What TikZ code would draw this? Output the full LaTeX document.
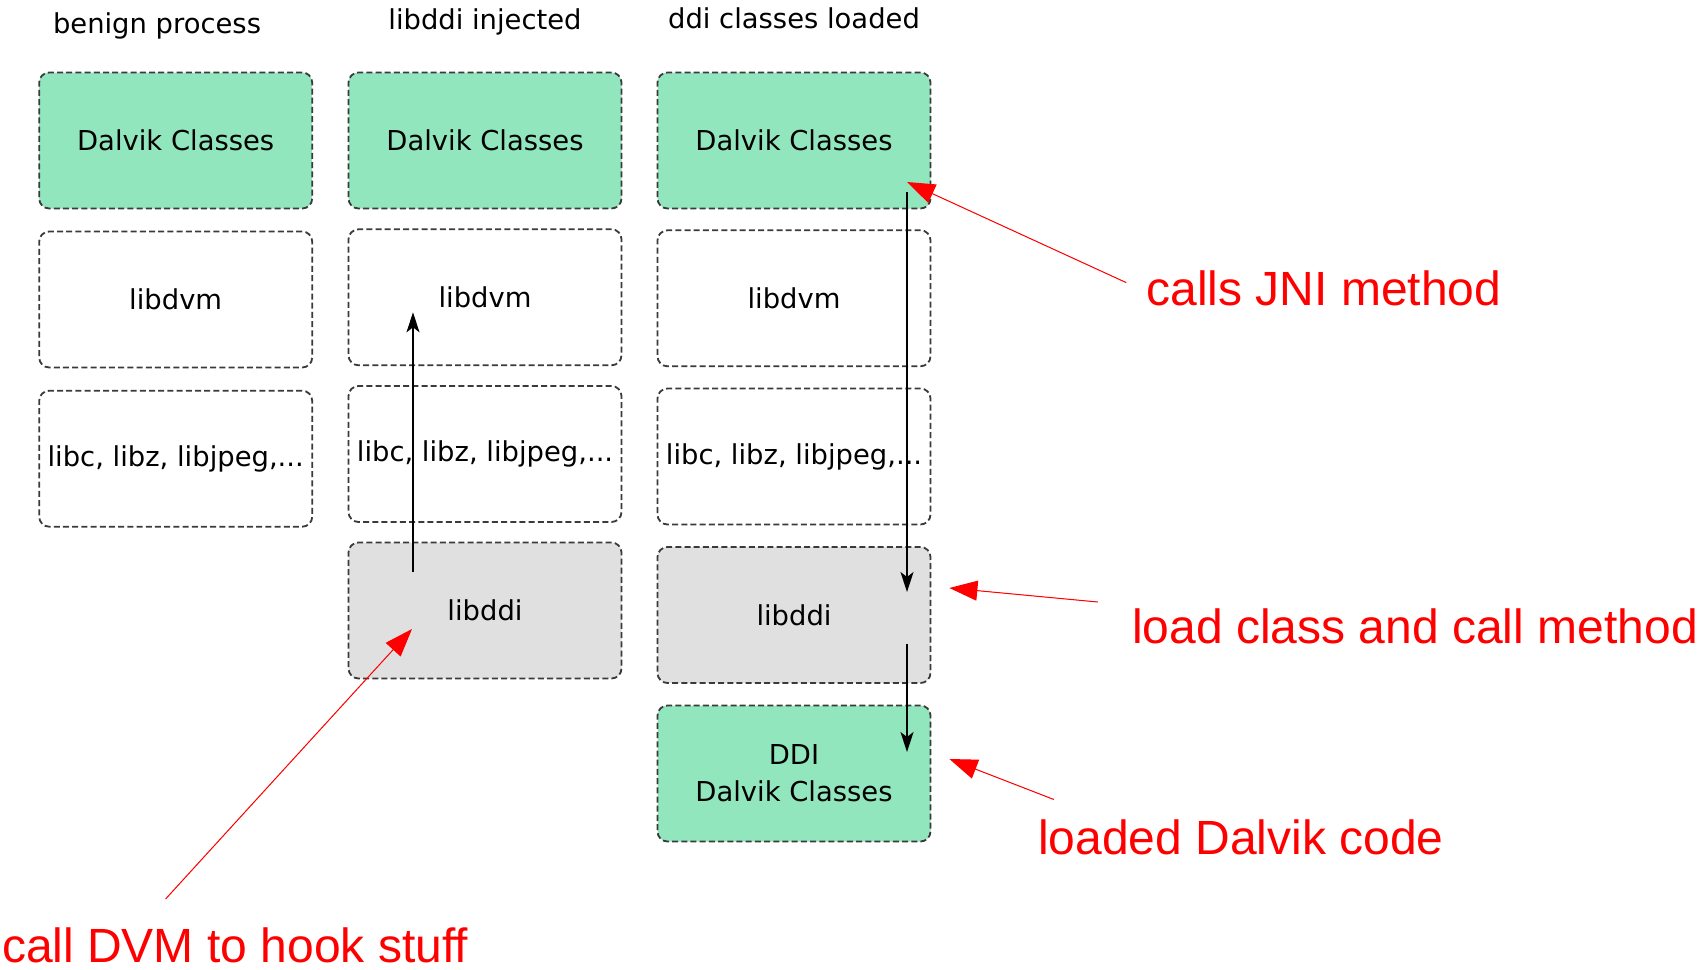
\documentclass[tikz,border=0pt]{standalone}
\usepackage{fontspec}
\setmainfont{DejaVu Sans}
\newfontfamily\arialfont{Liberation Sans}
\usetikzlibrary{calc,arrows.meta}
\definecolor{dgreen}{HTML}{92E6BD}
\definecolor{lgrey}{HTML}{E0E0E0}
\definecolor{bordergrey}{HTML}{3A3A3A}
\tikzset{
  layer/.style={draw=bordergrey, line width=0.9pt, dash pattern=on 3pt off 1.6pt,
    rounded corners=5pt, minimum width=136.5pt, minimum height=68pt,
    inner sep=0pt, font=\fontsize{13.7}{18.5}\selectfont, align=center},
  greenbox/.style={layer, fill=dgreen},
  greybox/.style={layer, fill=lgrey},
  whitebox/.style={layer, fill=white},
  title/.style={font=\fontsize{13.7}{16}\selectfont, inner sep=0pt},
  blk/.style={draw=black, line width=0.7pt, -{Stealth[length=10pt,width=6.5pt,inset=2.5pt]}},
  redarr/.style={draw=red, line width=0.5pt, -{Triangle[length=14pt,width=10pt]}, fill=red},
  redlbl/.style={text=red, font=\arialfont\fontsize{24}{28}\selectfont, inner sep=0pt},
}
\begin{document}
\begin{tikzpicture}[x=0.5pt,y=-0.5pt]
\path[use as bounding box] (0,0) rectangle (1701,969);
% titles
\node[title] (t1) at (157,26) {benign process};
\node[title] (t2) at (485,22) {libddi injected};
\node[title] (t3) at (794,18.5) {ddi classes loaded};
% column 1
\node[greenbox] (c1dal) at (175.7,140.5) {Dalvik Classes};
\node[whitebox] (c1dvm) at (175.7,299.5) {libdvm};
\node[whitebox] (c1libc) at (175.7,458.7) {libc, libz, libjpeg,...};
% column 2
\node[greenbox] (c2dal) at (485,140.5) {Dalvik Classes};
\node[whitebox] (c2dvm) at (485,297.3) {libdvm};
\node[whitebox] (c2libc) at (485,454) {libc, libz, libjpeg,...};
\node[greybox] (c2ddi) at (485,610.5) {libddi};
% column 3
\node[greenbox] (c3dal) at (794,140.5) {Dalvik Classes};
\node[whitebox] (c3dvm) at (794,298.3) {libdvm};
\node[whitebox] (c3libc) at (794,456.5) {libc, libz, libjpeg,...};
\node[greybox] (c3ddi) at (794,615) {libddi};
\node[greybox, fill=dgreen] (c3ddic) at (794,773.5) {DDI\\Dalvik Classes};
% black arrows
\draw[blk] ($(c2ddi.center)+(-72,-38.5)$) -- ($(c2dvm.center)+(-72,15)$);
\draw[blk] ($(c3dal.center)+(113,51.5)$) -- ($(c3ddi.center)+(113,-23)$);
\draw[blk] ($(c3ddi.center)+(113,29)$) -- ($(c3ddic.center)+(113,-21.5)$);
% red labels
\node[redlbl] (l1) at (1324,288.6) {calls JNI method};
\node[redlbl] (l2) at (1415,626) {load class and call method};
\node[redlbl] (l3) at (1241,837.5) {loaded Dalvik code};
\node[redlbl] (l4) at (235,945) {call DVM to hook stuff};
\coordinate (h1) at ($(c3dal.center)+(113,41.5)$);
\coordinate (h2) at ($(c3ddi.east)+(18,-27)$);
\coordinate (h3) at ($(c3ddic.east)+(18,-14.5)$);
\coordinate (h4) at ($(c2ddi.center)+(-73,18.5)$);
\draw[redarr] ($(l1.west)+(-20,-6)$) -- (h1);
\draw[redarr] ($(l2.west)+(-34,-24)$) -- (h2);
\draw[redarr] ($(l3.north west)+(16,-20)$) -- (h3);
\draw[redarr] ($(l4.north west)+(164,-28)$) -- (h4);
\end{tikzpicture}
\end{document}
